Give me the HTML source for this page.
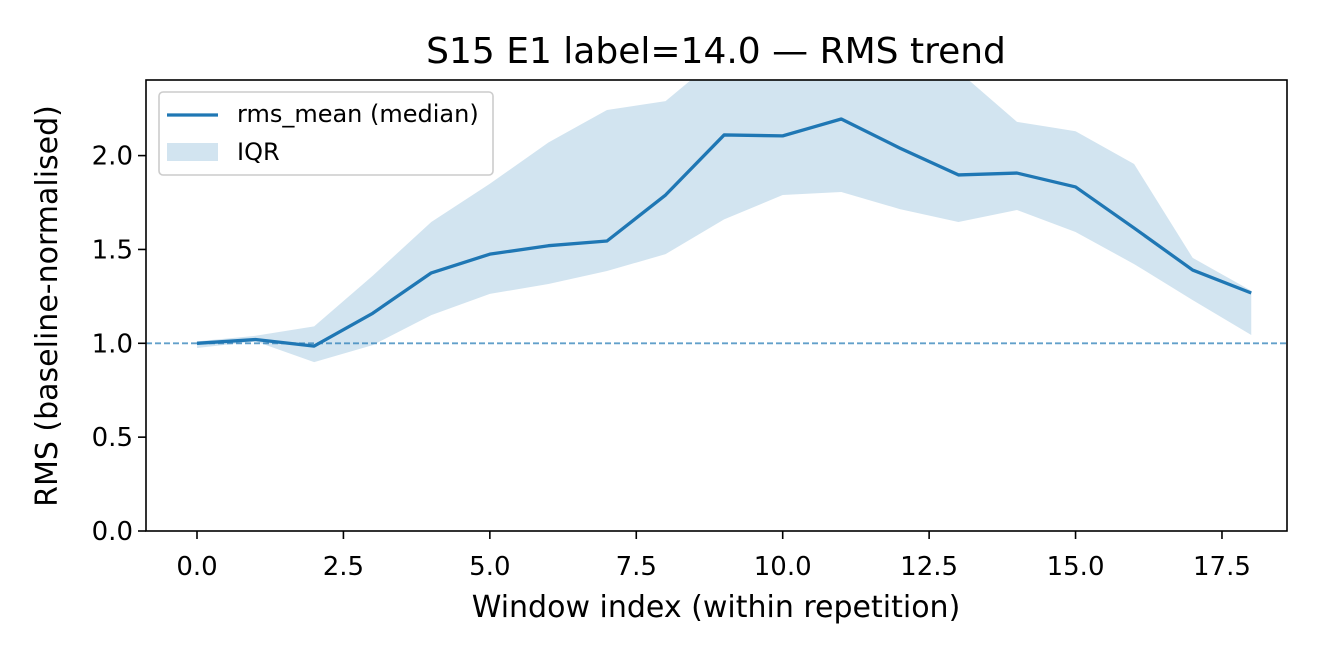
<!DOCTYPE html>
<html><head><meta charset="utf-8"><style>
body{margin:0;background:#fff;}
svg{font-family:"DejaVu Sans","Liberation Sans",sans-serif;}
</style></head><body>
<svg width="1320" height="660" viewBox="0 0 1320 660">
<defs><clipPath id="plotclip"><rect x="146" y="80" width="1141" height="451"/></clipPath></defs>
<rect width="1320" height="660" fill="#fff"/>
<text x="716" y="63" text-anchor="middle" font-size="36">S15 E1 label=14.0 — RMS trend</text>
<g id="plot" clip-path="url(#plotclip)"></g>
<g id="axes"></g>
<rect x="146" y="80" width="1141" height="451" fill="none" stroke="#000" stroke-width="1.6"/>
<text x="716" y="617" text-anchor="middle" font-size="30">Window index (within repetition)</text>
<text transform="translate(57,306) rotate(-90)" text-anchor="middle" font-size="30">RMS (baseline-normalised)</text>
<g>
<rect x="159" y="92" width="334" height="83" rx="4" fill="#fff" fill-opacity="0.8" stroke="#ccc" stroke-width="1.6"/>
<line x1="167" y1="115" x2="218" y2="115" stroke="#1f77b4" stroke-width="3.3"/>
<text x="237" y="122" font-size="24">rms_mean (median)</text>
<rect x="167" y="143" width="51" height="18" fill="#1f77b4" fill-opacity="0.2"/>
<text x="237" y="160" font-size="24">IQR</text>
</g>
</svg>
<script>
const xs = [0,1,2,3,4,5,6,7,8,9,10,11,12,13,14,15,16,17,18];
const median = [1.0,1.02,0.985,1.16,1.375,1.475,1.52,1.545,1.79,2.11,2.105,2.195,2.04,1.897,1.907,1.833,1.614,1.39,1.268];
const upper = [1.01,1.04,1.09,1.36,1.646,1.85,2.07,2.243,2.29,2.55,2.65,2.65,2.6,2.45,2.18,2.13,1.955,1.455,1.28];
const lower = [0.975,1.01,0.9,0.99,1.15,1.263,1.316,1.385,1.475,1.66,1.79,1.806,1.715,1.646,1.71,1.593,1.422,1.23,1.044];
const xTicks = [0,2.5,5,7.5,10,12.5,15,17.5];
const xTickLabels = ["0.0","2.5","5.0","7.5","10.0","12.5","15.0","17.5"];
const yTicks = [0,0.5,1,1.5,2];
const yTickLabels = ["0.0","0.5","1.0","1.5","2.0"];
const baseline = 1.0;

const NS="http://www.w3.org/2000/svg";
const X = v => 197 + v*58.57;
const Y = v => 531 - v*187.7;
function mk(tag, attrs, parent){const e=document.createElementNS(NS,tag);for(const k in attrs)e.setAttribute(k,attrs[k]);parent.appendChild(e);return e;}
const plot=document.getElementById('plot'), axes=document.getElementById('axes');

let d = xs.map((x,i)=>(i?'L':'M')+X(x)+','+Y(upper[i])).join(' ');
for(let i=xs.length-1;i>=0;i--) d+=' L'+X(xs[i])+','+Y(lower[i]);
const band=mk('path',{d:d+' Z',fill:'#1f77b4','fill-opacity':0.2},plot);



const bl=mk('line',{x1:146,x2:1287,y1:Y(baseline),y2:Y(baseline),stroke:'#1f77b4','stroke-opacity':0.7,'stroke-width':1.8,'stroke-dasharray':'6,3'},plot);



const ml=mk('path',{d:xs.map((x,i)=>(i?'L':'M')+X(x)+','+Y(median[i])).join(' '),fill:'none',stroke:'#1f77b4','stroke-width':3.3,'stroke-linejoin':'round'},plot);



xTicks.forEach((t,i)=>{
  const tk=mk('line',{x1:X(t),x2:X(t),y1:531,y2:539,stroke:'#000','stroke-width':1.6},axes);
  
  
  const tx=mk('text',{x:X(t),y:575,'text-anchor':'middle','font-size':26},axes);
  tx.textContent=xTickLabels[i];
  
  
});
yTicks.forEach((t,i)=>{
  const tk=mk('line',{x1:138,x2:146,y1:Y(t),y2:Y(t),stroke:'#000','stroke-width':1.6},axes);
  
  
  const tx=mk('text',{x:133,y:Y(t)+9,'text-anchor':'end','font-size':26},axes);
  tx.textContent=yTickLabels[i];
  
  
});
</script>
</body></html>
